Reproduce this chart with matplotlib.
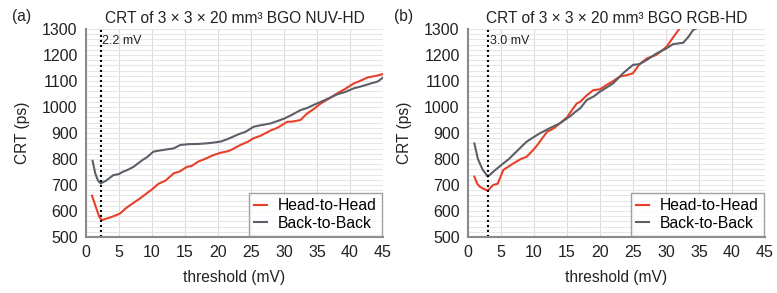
import matplotlib
matplotlib.use('Agg')
from matplotlib import pyplot as plt
from matplotlib.ticker import MultipleLocator

plt.rcParams['font.family'] = ['Liberation Sans', 'DejaVu Sans']

# (a) NUV-HD
nuv_hh_x = [0.9, 1.3, 1.7, 2.0, 2.4, 3.0, 4.0, 5.2, 6.0, 7.0, 8.0, 9.2, 10.0, 11.0, 12.0, 13.3, 14.2, 15.3, 16.0, 17.0, 18.0, 19.3, 20.4, 21.5, 22.0, 23.4, 24.5, 25.4, 26.5, 28.0, 29.0, 30.5, 31.3, 32.5, 33.5, 34.5, 35.6, 36.8, 38.1, 39.3, 40.6, 41.5, 42.7, 44.0, 45.0]
nuv_hh_y = [659, 630, 600, 578, 565, 570, 578, 591, 610, 628, 645, 668, 683, 705, 716, 745, 752, 770, 773, 790, 800, 815, 824, 830, 835, 854, 866, 880, 890, 910, 920, 943, 944, 950, 975, 992, 1014, 1032, 1053, 1070, 1091, 1100, 1114, 1120, 1127]
nuv_bb_x = [1.0, 1.4, 1.8, 2.2, 3.0, 4.15, 5.0, 5.5, 6.3, 7.2, 8.5, 9.3, 10.2, 11.0, 12.0, 13.3, 14.3, 15.5, 17.0, 18.2, 19.3, 20.4, 21.4, 23.1, 24.2, 25.4, 26.5, 28.0, 29.0, 30.0, 31.2, 32.5, 33.5, 34.5, 35.6, 36.8, 38.1, 39.3, 40.6, 41.8, 43.2, 44.2, 45.0]
nuv_bb_y = [793, 745, 718, 706, 716, 738, 742, 750, 758, 770, 795, 808, 828, 832, 836, 841, 854, 857, 858, 860, 863, 867, 876, 895, 905, 924, 930, 937, 946, 955, 970, 988, 996, 1008, 1020, 1034, 1049, 1058, 1072, 1080, 1091, 1098, 1113]

# (b) RGB-HD
rgb_hh_x = [0.96, 1.4, 1.8, 2.4, 3.0, 3.8, 4.5, 5.35, 6.2, 7.0, 8.0, 8.9, 9.7, 10.4, 11.2, 12.0, 13.0, 13.9, 15.0, 15.8, 16.5, 17.0, 18.0, 19.0, 20.0, 21.0, 22.0, 23.0, 24.0, 25.0, 26.0, 27.1, 28.5, 29.3, 30.1, 31.0, 32.1]
rgb_hh_y = [732, 705, 693, 685, 678, 700, 705, 758, 772, 785, 800, 809, 830, 850, 878, 905, 918, 937, 960, 990, 1014, 1020, 1045, 1065, 1068, 1085, 1100, 1117, 1122, 1130, 1165, 1187, 1200, 1215, 1232, 1265, 1303]
rgb_bb_x = [0.96, 1.5, 2.2, 3.0, 4.0, 5.35, 6.2, 7.0, 8.0, 8.9, 10.0, 10.9, 12.5, 13.9, 15.5, 16.2, 17.0, 18.0, 19.0, 20.0, 21.0, 22.0, 23.5, 25.0, 26.0, 27.1, 28.5, 30.1, 31.1, 32.0, 32.6, 33.4, 34.1, 34.6]
rgb_bb_y = [860, 800, 760, 732, 755, 783, 800, 820, 845, 867, 885, 899, 920, 937, 965, 980, 995, 1027, 1040, 1059, 1075, 1091, 1130, 1162, 1165, 1181, 1205, 1226, 1242, 1245, 1247, 1270, 1296, 1302]

panels = [
    ('(a)', 'CRT of 3 × 3 × 20 mm³ BGO NUV-HD', 2.2, '2.2 mV', nuv_hh_x, nuv_hh_y, nuv_bb_x, nuv_bb_y),
    ('(b)', 'CRT of 3 × 3 × 20 mm³ BGO RGB-HD', 3.0, '3.0 mV', rgb_hh_x, rgb_hh_y, rgb_bb_x, rgb_bb_y),
]

red = '#e8402a'
grey = '#5b6068'
txt = '#222222'

fig = plt.figure(figsize=(7.77, 2.93), dpi=100)
lefts = [86 / 777, 468 / 777]
for left, (tag, title, vth, vlabel, hx, hy, bx, by) in zip(lefts, panels):
    ax = fig.add_axes([left, 1 - 237 / 293, 297 / 777, 208 / 293])
    ax.plot(hx, hy, color=red, lw=1.5, label='Head-to-Head')
    ax.plot(bx, by, color=grey, lw=1.5, label='Back-to-Back')
    ax.axvline(vth, color='black', ls=(0, (1.0, 1.4)), lw=1.5)
    ax.text(vth + 0.3, 1255, vlabel, fontsize=9, va='center', color=txt)
    ax.set_xlim(0, 45)
    ax.set_ylim(500, 1300)
    ax.xaxis.set_major_locator(MultipleLocator(5))
    ax.yaxis.set_major_locator(MultipleLocator(100))
    ax.yaxis.set_minor_locator(MultipleLocator(20))
    ax.grid(True, which='major', axis='x', color='#dcdcdc', lw=0.8)
    ax.grid(True, which='both', axis='y', color='#e6e6e6', lw=0.7)
    ax.set_axisbelow(True)
    for s in ['top', 'right']:
        ax.spines[s].set_visible(False)
    for s in ['left', 'bottom']:
        ax.spines[s].set_color('#8a8a8a')
        ax.spines[s].set_linewidth(1.5)
    ax.tick_params(which='both', length=0, labelsize=11.5, pad=6, colors=txt)
    ax.set_xlabel('threshold (mV)', fontsize=11.2, color=txt, labelpad=7)
    ax.set_ylabel('CRT (ps)', fontsize=11.2, color=txt, labelpad=9)
    ax.set_title(title, fontsize=11.2, color=txt, pad=4)
    ax.text(-0.25, 1.06, tag, transform=ax.transAxes, fontsize=11.2, color=txt, va='center')
    leg = ax.legend(loc='lower right', fontsize=11.3, frameon=True, fancybox=False,
                    handlelength=0.8, borderpad=0.35, labelspacing=0.15, handletextpad=0.7,
                    borderaxespad=0.05)
    leg.get_frame().set_edgecolor('#8a8a8a')
    leg.get_frame().set_linewidth(1.0)

plt.savefig('out.png', dpi=100)
